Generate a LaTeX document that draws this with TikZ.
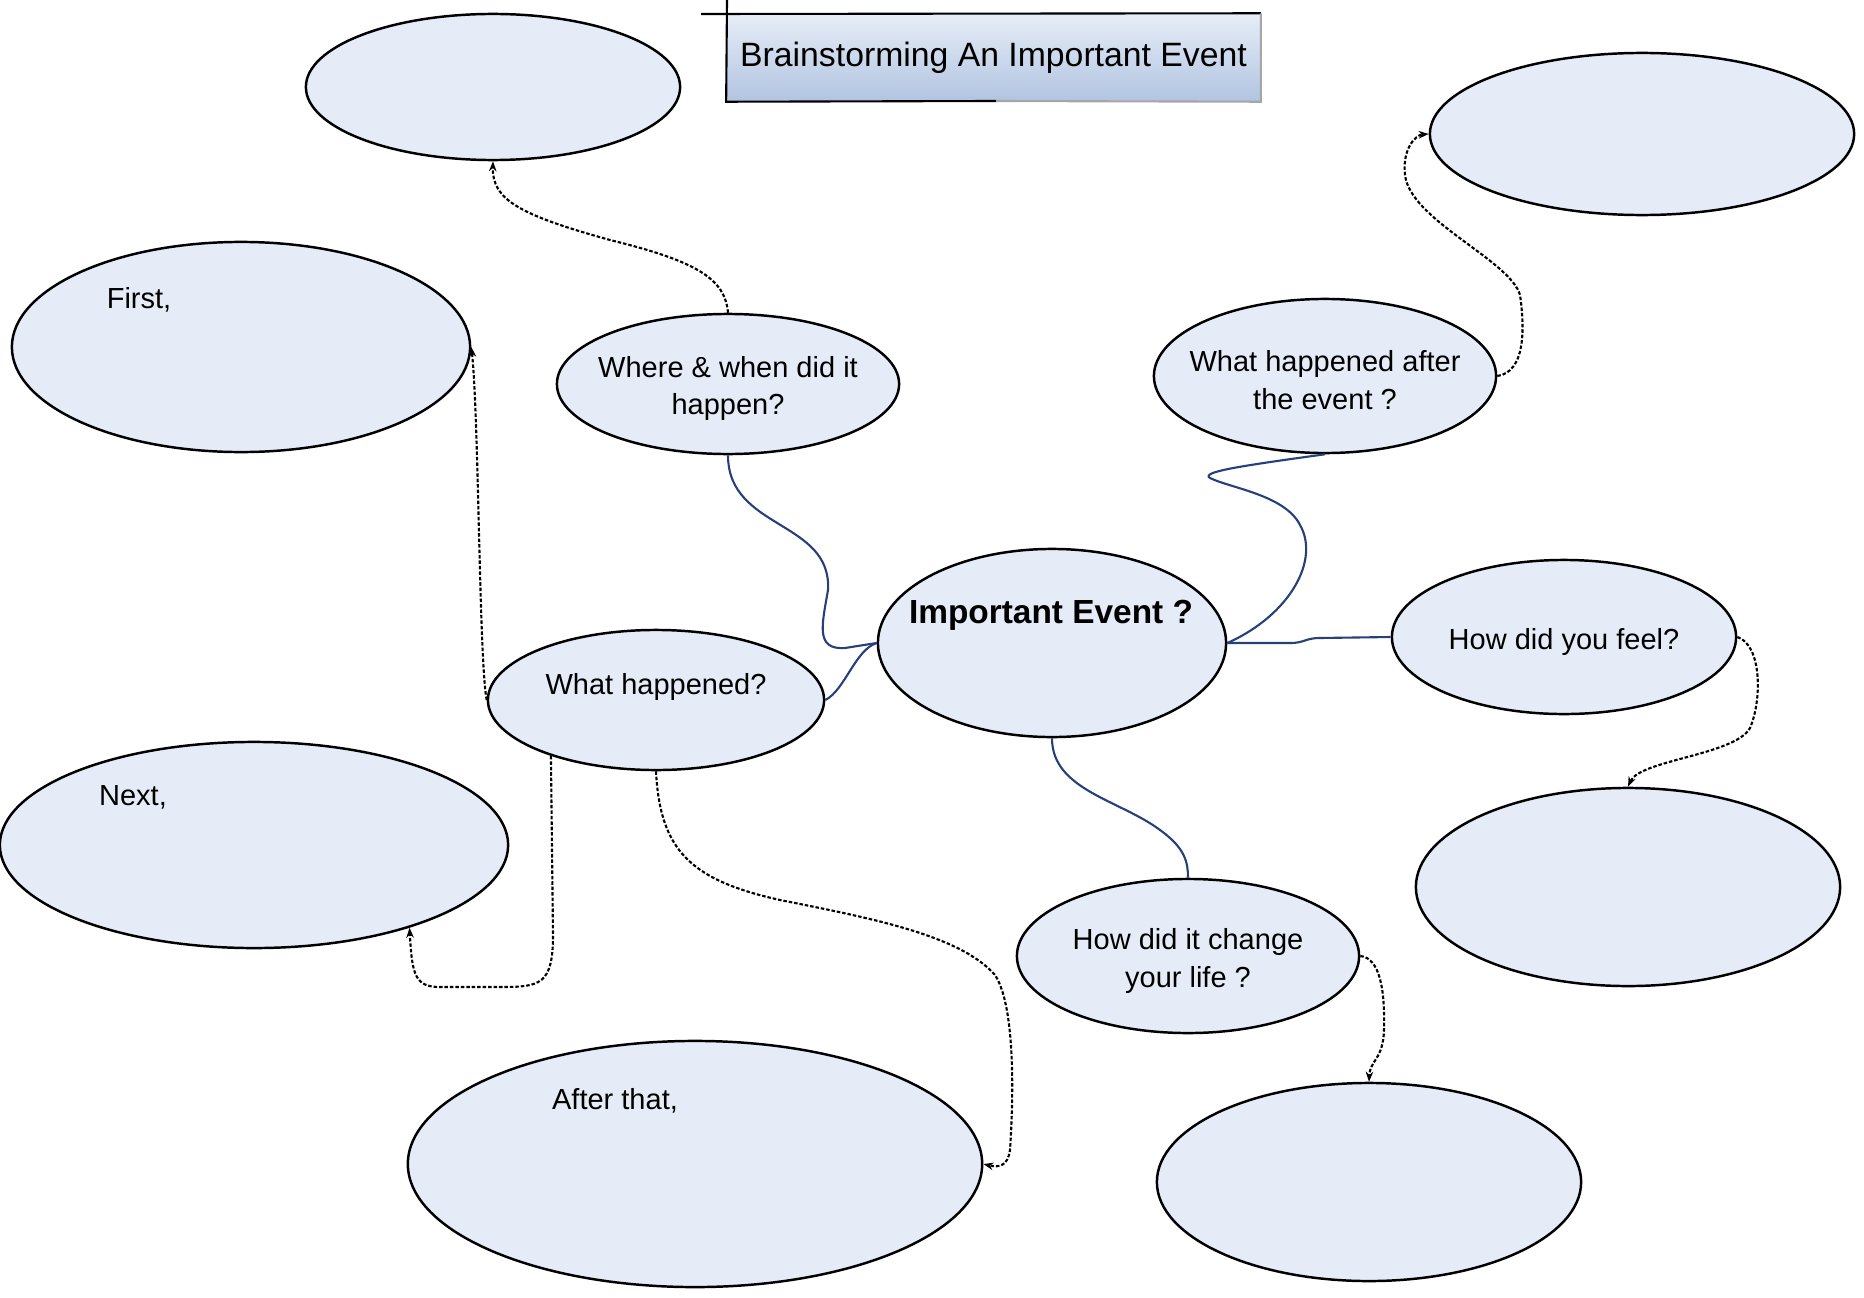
\documentclass[tikz,border=0pt]{standalone}
\usepackage{fontspec}
\setmainfont{Liberation Sans}
\usetikzlibrary{shapes.geometric,arrows.meta}

\definecolor{bubblefill}{HTML}{E5ECF7}
\definecolor{linknavy}{HTML}{26407A}
\definecolor{titletop}{HTML}{E6EDF7}
\definecolor{titlebot}{HTML}{B2C4E1}

\begin{document}
\begin{tikzpicture}[x=0.01cm, y=-0.01cm,
  bubble/.style={ellipse, draw, line width=0.7pt, fill=bubblefill, inner sep=0pt},
  txt/.style={font=\fontsize{8.25pt}{10.8pt}\selectfont, align=center, inner sep=0pt, yshift=-0.045cm},
  link/.style={draw=linknavy, line width=0.6pt},
  hint/.style={line width=0.6pt, dash pattern=on 1pt off 0.55pt, -{Stealth[length=0.1cm,width=0.075cm]}}]
  \useasboundingbox (0,0) rectangle (1864,1297);

  % title box
  \node[top color=titletop, bottom color=titlebot, minimum width=5.33cm, minimum height=0.87cm,
        inner sep=0pt, font=\fontsize{9.6pt}{12pt}\selectfont] (title) at (993.5,57.5) {Brainstorming An Important Event};
  \coordinate (tleft) at (701,14);
  \coordinate (ttop) at (727,0);
  \coordinate (tmid) at (996,101);
  \draw[line width=0.6pt] (tleft) -- (title.north east);
  \draw[line width=0.6pt] (ttop) -- (title.south west) -- (tmid);
  \draw[line width=0.6pt, gray!70] (tmid) -- (title.south east) -- (title.north east);

  % bubbles
  \node[bubble, minimum width=3.74cm, minimum height=1.46cm] (tl) at (493,87) {};
  \node[bubble, minimum width=4.58cm, minimum height=2.10cm] (first) at (241,347) {};
  \node[bubble, minimum width=3.42cm, minimum height=1.40cm] (where) at (728,384) {};
  \node[bubble, minimum width=3.42cm, minimum height=1.54cm] (after) at (1325,376) {};
  \node[bubble, minimum width=4.24cm, minimum height=1.62cm] (tr) at (1642,134) {};
  \node[bubble, minimum width=3.48cm, minimum height=1.88cm] (imp) at (1052,643) {};
  \node[bubble, minimum width=3.44cm, minimum height=1.54cm] (feel) at (1564,637) {};
  \node[bubble, minimum width=3.36cm, minimum height=1.40cm] (what) at (656,700) {};
  \node[bubble, minimum width=5.08cm, minimum height=2.06cm] (next) at (254,845) {};
  \node[bubble, minimum width=4.24cm, minimum height=1.98cm] (feelbox) at (1628,887) {};
  \node[bubble, minimum width=3.42cm, minimum height=1.54cm] (change) at (1188,956) {};
  \node[bubble, minimum width=5.74cm, minimum height=2.46cm] (afterthat) at (695,1164) {};
  \node[bubble, minimum width=4.24cm, minimum height=1.98cm] (changebox) at (1369,1182) {};

  % texts
  \node[txt] (firsttxt) at (139,295) {First,};
  \node[txt] (nexttxt) at (133,793) {Next,};
  \node[txt] (aftertxt) at (615,1096) {After that,};
  \node[txt] (wheretxt) at (where) {Where \& when did it\\happen?};
  \node[txt] (aftertxt2) at (after) {What happened after\\the event ?};
  \node[txt] (feeltxt) at (feel) {How did you feel?};
  \node[txt] (changetxt) at (change) {How did it change\\your life ?};
  \node[txt] (whattxt) at (656,682) {What happened?};
  \node[txt, font=\fontsize{9.5pt}{12pt}\selectfont\bfseries] (imptxt) at (1051,611) {Important Event ?};

  % solid links
  \draw[link] (where.south) .. controls (728,530) and (832,520) .. (828,590)
    .. controls (822,625) and (815,650) .. (845,648) -- (imp.west);
  \draw[link] (what.east) .. controls (845,690) and (855,650) .. (imp.west);
  \draw[link] (imp.east) -- (1290,643) .. controls (1305,643) and (1305,638) .. (1320,638) -- (feel.west);
  \draw[link] (imp.east) .. controls (1290,615) and (1320,560) .. (1300,525)
    .. controls (1285,495) and (1230,488) .. (1210,478)
    .. controls (1200,472) and (1240,466) .. (after.south);
  \draw[link] (imp.south) .. controls (1052,790) and (1120,800) .. (1160,830)
    .. controls (1185,848) and (1188,862) .. (change.north);

  % dotted hints
  \draw[hint] (where.north) .. controls (725,280) and (700,262) .. (610,240)
    .. controls (520,215) and (492,200) .. (tl.south);
  \draw[hint] (what.west) .. controls (479,660) and (479,420) .. (first.east);
  \draw[hint] (what.208) -- (553,935) .. controls (553,985) and (540,987) .. (500,987) -- (440,987)
    .. controls (415,987) and (412,975) .. (next.-28);
  \draw[hint] (what.south) .. controls (660,850) and (690,880) .. (780,900)
    .. controls (870,918) and (960,935) .. (995,975)
    .. controls (1018,1010) and (1012,1120) .. (1010,1150)
    .. controls (1008,1165) and (1000,1168) .. (afterthat.east);
  \draw[hint] (change.east) .. controls (1380,958) and (1385,990) .. (1384,1030)
    .. controls (1383,1060) and (1370,1060) .. (changebox.north);
  \draw[hint] (feel.east) .. controls (1762,645) and (1762,700) .. (1750,728)
    .. controls (1735,755) and (1640,760) .. (feelbox.north);
  \draw[hint] (after.east) .. controls (1525,372) and (1525,330) .. (1520,295)
    .. controls (1510,260) and (1410,220) .. (1405,175)
    .. controls (1402,150) and (1415,135) .. (tr.west);
\end{tikzpicture}
\end{document}
